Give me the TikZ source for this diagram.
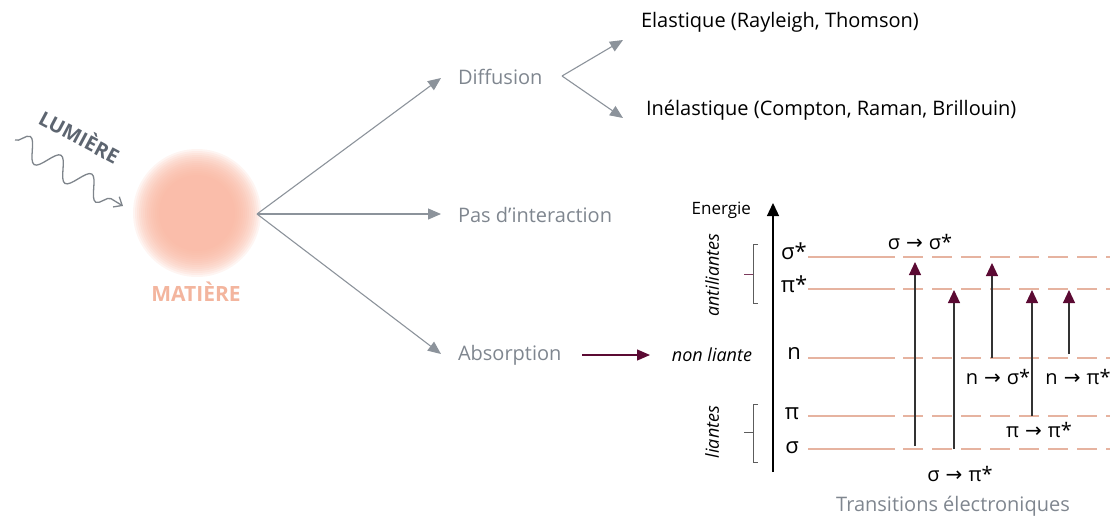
\documentclass[tikz,border=0pt]{standalone}
\usepackage{fontspec}
\setmainfont{Open Sans}
\newfontfamily\symf{DejaVu Sans}
\usetikzlibrary{arrows.meta,decorations.pathmorphing}
\definecolor{garrow}{HTML}{8C939B}
\definecolor{gtxt}{HTML}{7F868F}
\definecolor{lum}{HTML}{5D6570}
\definecolor{sal}{HTML}{F9B29B}
\definecolor{saltxt}{HTML}{F3B59E}
\definecolor{lvl}{HTML}{E6B3A0}
\definecolor{mar}{HTML}{5B0A33}
\definecolor{dark}{HTML}{333333}
\newcommand{\tarr}{\hspace{0.3em}{\symf\fontsize{20}{23}\selectfont →}\hspace{0.3em}}
\begin{document}
\begin{tikzpicture}[x=1pt,y=-1pt,
  every node/.style={inner sep=0pt,outer sep=0pt},
  garr/.style={draw=garrow,line width=1.1pt,-{Triangle[length=13pt,width=11pt]}},
  gtext/.style={text=gtxt,font=\fontsize{20}{23}\selectfont},
  btext/.style={text=black,font=\fontsize{20}{23}\selectfont},
  lvllab/.style={font=\fontsize{22}{25}\selectfont},
  trlab/.style={font=\fontsize{20}{23}\selectfont},
  sidelab/.style={font=\itshape\fontsize{18}{21}\selectfont},
  lvlline/.style={draw=lvl,line width=1.4pt},
  lvldash/.style={draw=lvl,line width=1.4pt,dash pattern=on 20pt off 9pt},
  trans/.style={draw=dark,line width=1.1pt,-{Triangle[length=13pt,width=12pt,color=mar]}},
  brack/.style={draw=dark!80,line width=1pt}]
\useasboundingbox (0,0) rectangle (1113,515);

% --- light and matter
\coordinate (c) at (197,213);
\foreach \r in {64,62,...,38} \fill[sal,opacity=0.13] (c) circle (\r pt);
\node[text=saltxt,font=\bfseries\fontsize{21}{24}\selectfont] (mat) at (196,292) {MATIÈRE};
\node[text=lum,font=\bfseries\fontsize{20}{23}\selectfont,rotate=-28] (lum) at (80,136) {LUMIÈRE};
\coordinate (w1) at (15,140);
\coordinate (w2) at (123,206);
\draw[draw=garrow!90!black,line width=1.3pt,decorate,
  decoration={snake,amplitude=11pt,segment length=36pt,post length=7pt},
  -{Straight Barb[length=7pt,width=12pt]}] (w1) -- (w2);

% --- branches
\coordinate (o) at (257,214);
\node[gtext,anchor=west] (dif) at (458,77) {Diffusion};
\node[gtext,anchor=west] (pas) at (458,215) {Pas d’interaction};
\node[gtext,anchor=west] (abs) at (458,355) {Absorption};
\coordinate (difT) at (441,78);
\coordinate (pasT) at (441,214);
\coordinate (absT) at (441,354);
\draw[garr] (o) -- (difT);
\draw[garr] (o) -- (pasT);
\draw[garr] (o) -- (absT);

\coordinate (o2) at (562,76);
\node[btext,anchor=west] (ela) at (641,22) {Elastique (Rayleigh, Thomson)};
\node[btext,anchor=west] (ine) at (646,110) {Inélastique (Compton, Raman, Brillouin)};
\coordinate (elaT) at (623,40);
\coordinate (ineT) at (623,118);
\draw[garr] (o2) -- (elaT);
\draw[garr] (o2) -- (ineT);

\coordinate (a1) at (582,355);
\coordinate (a2) at (650,355);
\draw[draw=mar,line width=1.2pt,-{Triangle[length=13pt,width=11pt]}] (a1) -- (a2);

% --- energy diagram
\coordinate (e0) at (773,472);
\coordinate (e1) at (773,203);
\draw[draw=black,line width=1.3pt,-{Triangle[length=13pt,width=12pt]}] (e0) -- (e1);
\node[font=\fontsize{17}{20}\selectfont,anchor=east] (ener) at (751,210) {Energie};

\node[lvllab] (Ls) at (794,251) {σ*};
\node[lvllab] (Lp) at (794,284) {π*};
\node[lvllab] (Ln) at (794,353) {n};
\node[lvllab] (Lpi) at (792,414) {π};
\node[lvllab] (Lsi) at (792,448) {σ};

\foreach \nm/\y in {ss/257,ps/289,nn/358,pp/416,sg/449}{
  \coordinate (\nm a) at (808,\y);
  \coordinate (\nm b) at (895,\y);
  \coordinate (\nm c) at (903,\y);
  \coordinate (\nm d) at (1110,\y);
  \draw[lvlline] (\nm a) -- (\nm b);
  \draw[lvldash] (\nm c) -- (\nm d);
}

% brackets
\draw[brack] (758,244) -- (753,244) -- (753,303) -- (758,303);
\draw[draw=mar!80,line width=1pt] (753,274) -- (744,274);
\draw[brack] (758,404) -- (753,404) -- (753,462) -- (758,462);
\draw[draw=dark!80,line width=1pt] (753,432) -- (744,432);

\node[sidelab,rotate=90] (anti) at (712,275) {antiliantes};
\node[sidelab,rotate=90] (lia) at (712,432) {liantes};
\node[sidelab] (nl) at (712,355) {non liante};

% transitions
\coordinate (t1a) at (915,446); \coordinate (t1b) at (915,262);
\coordinate (t2a) at (954,449); \coordinate (t2b) at (954,290);
\coordinate (t3a) at (992,358); \coordinate (t3b) at (992,263);
\coordinate (t4a) at (1032,416); \coordinate (t4b) at (1032,290);
\coordinate (t5a) at (1069,354); \coordinate (t5b) at (1069,290);
\draw[trans] (t1a) -- (t1b);
\draw[trans] (t2a) -- (t2b);
\draw[trans] (t3a) -- (t3b);
\draw[trans] (t4a) -- (t4b);
\draw[trans] (t5a) -- (t5b);

\node[trlab] (l1) at (920,242) {σ\tarr σ*};
\node[trlab] (l3) at (998,377) {n\tarr σ*};
\node[trlab] (l5) at (1078,377) {n\tarr π*};
\node[trlab] (l4) at (1039,430) {π\tarr π*};
\node[trlab] (l2) at (960,474) {σ\tarr π*};
\node[gtext] (tr) at (953,506) {Transitions électroniques};
\end{tikzpicture}
\end{document}
